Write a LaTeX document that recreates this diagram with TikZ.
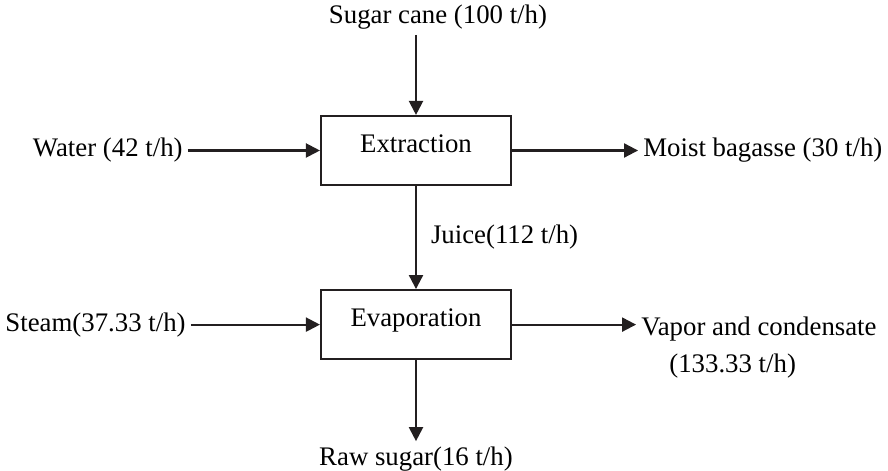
\documentclass[tikz,border=0pt]{standalone}
\usepackage{fontspec}
\setmainfont{Liberation Serif}
\usepackage{tikz}
\usetikzlibrary{arrows.meta,positioning}
\definecolor{ink}{HTML}{231F20}

\begin{document}
\begin{tikzpicture}[
  font=\fontsize{15.25pt}{21pt}\selectfont,
  node distance=2.06cm and 2.52cm,
  unit/.style={draw=ink, line width=1.2pt, minimum width=3.8cm, minimum height=1.38cm,
    text height=0.4cm, text depth=0.32cm},
  lbl/.style={inner sep=0.1cm},
  arr/.style={-{Triangle[length=0.28cm, width=0.28cm]}, draw=ink, line width=1.2pt}
]
\useasboundingbox (-8.32,3.01) rectangle (9.44,-6.41);
\node[unit] (extract) {Extraction};
\node[unit, below=of extract] (evap) {Evaporation};
\node[lbl, above=1.6cm of extract, xshift=0.44cm] (cane) {Sugar cane (100 t/h)};
\node[lbl, left=2.64cm of extract] (water) {Water (42 t/h)};
\node[lbl, right=of extract] (bagasse) {Moist bagasse (30 t/h)};
\node[lbl, left=2.58cm of evap] (steam) {Steam(37.33 t/h)};
\node[lbl, right=2.48cm of evap, yshift=-0.45cm, align=left] (vapor)
  {Vapor and condensate\\\hspace*{0.56cm}(133.33 t/h)};
\node[lbl, below=1.62cm of evap] (sugar) {Raw sugar(16 t/h)};
\draw[arr] (extract.north |- cane.south) -- (extract.north);
\draw[arr] (water) -- (extract);
\draw[arr] (extract) -- (bagasse);
\draw[arr] (extract) -- node[lbl, right=0.18cm] (juice) {Juice(112 t/h)} (evap);
\draw[arr] (steam) -- (evap);
\draw[arr] (evap.east) -- (evap.east -| vapor.west);
\draw[arr] (evap) -- (sugar);
\end{tikzpicture}
\end{document}
